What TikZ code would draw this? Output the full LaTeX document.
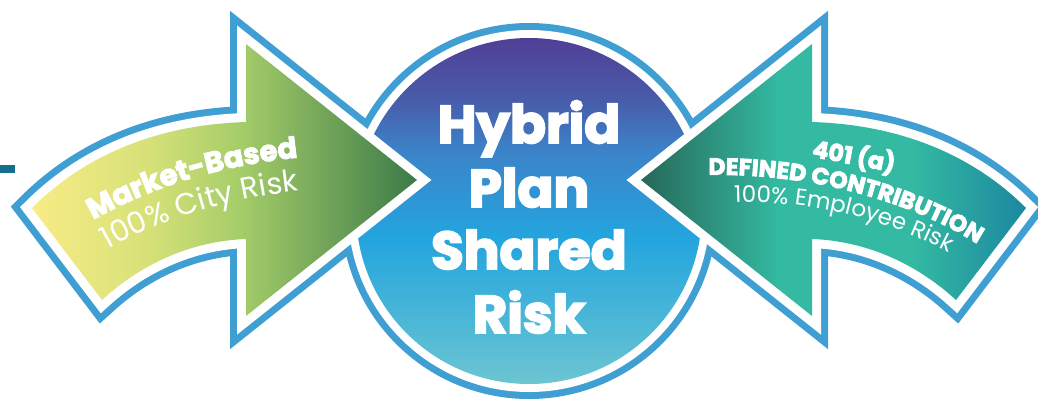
\documentclass[tikz,border=0pt]{standalone}
\usepackage{fontspec}
\setmainfont{Poppins}
\newfontfamily\heavyfont{Poppins}[BoldFeatures={FakeBold=3.5}]
\usetikzlibrary{decorations.text}

\definecolor{rimblue}{RGB}{63,159,210}
\definecolor{dashteal}{RGB}{20,110,140}
\definecolor{lefttail}{RGB}{248,236,134}
\definecolor{leftlight}{RGB}{215,225,120}
\definecolor{leftmid}{RGB}{165,205,105}
\definecolor{lefttip}{RGB}{60,122,72}
\definecolor{righttip}{RGB}{38,104,88}
\definecolor{rightmid}{RGB}{52,186,162}
\definecolor{righttail}{RGB}{28,136,160}
\definecolor{circtop}{RGB}{81,63,150}
\definecolor{circhigh}{RGB}{72,92,170}
\definecolor{circupper}{RGB}{60,130,200}
\definecolor{circmid}{RGB}{35,165,222}
\definecolor{circbot}{RGB}{108,197,210}

\pgfdeclarehorizontalshading{leftfill}{100bp}{color(0bp)=(lefttail); color(25bp)=(lefttail);
  color(40bp)=(leftlight); color(52bp)=(leftmid); color(75bp)=(lefttip); color(100bp)=(lefttip)}
\pgfdeclarehorizontalshading{rightfill}{100bp}{color(0bp)=(righttip); color(25bp)=(righttip);
  color(43bp)=(rightmid); color(60bp)=(rightmid); color(75bp)=(righttail); color(100bp)=(righttail)}
\pgfdeclareverticalshading{circfill}{100bp}{color(0bp)=(circbot); color(25bp)=(circbot);
  color(46bp)=(circmid); color(59bp)=(circupper); color(66bp)=(circhigh); color(75bp)=(circtop);
  color(100bp)=(circtop)}

\newcommand\circlefont{\heavyfont\bfseries\fontsize{53}{53}\selectfont}
\newcommand\leftboldfont{\heavyfont\bfseries\fontsize{29}{29}\selectfont}
\newcommand\leftplainfont{\fontsize{30}{30}\selectfont}
\newcommand\rightboldfont{\heavyfont\bfseries\fontsize{23.5}{23.5}\selectfont}
\newcommand\rightplainfont{\fontsize{23}{23}\selectfont}
\newcommand\pct{\%}

% inner outlines of the two bent arrows (pixel units)
\def\leftshape{(417,180) -- (246,44) -- (246,122) .. controls (150,125) and (80,160) .. (32,208) -- (102,300) .. controls (140,265) and (190,241) .. (246,239) -- (246,316) -- cycle}
\def\rightshape{(641,180) -- (812,44) -- (812,122) .. controls (908,125) and (978,160) .. (1026,208) -- (956,300) .. controls (918,265) and (868,241) .. (812,239) -- (812,316) -- cycle}

\tikzset{
  outline/.style={draw=rimblue, line width=32pt, line join=miter},
  gapline/.style={draw=white, line width=18pt, line join=miter},
  bigword/.style={text=white, font=\circlefont, anchor=base},
}

\begin{document}
\begin{tikzpicture}[x=1pt,y=-1pt]
  \useasboundingbox (0,0) rectangle (1038,401);
  \fill [dashteal] (0,165) rectangle (15,173);

  % blue rims
  \path [outline] \leftshape;
  \path [outline] \rightshape;

  % circle
  \fill [rimblue] (529,211) circle [radius=188pt];
  \fill [white] (529,211) circle [radius=181pt];
  \shade [shading=circfill] (529,211) circle [radius=173pt];

  % arrows on top
  \path [gapline] \leftshape;
  \path [gapline] \rightshape;
  \shade [shading=leftfill] \leftshape;
  \shade [shading=rightfill] \rightshape;

  \node (hybrid) [bigword] at (529,143) {Hybrid};
  \node (plan) [bigword] at (529,207) {Plan};
  \node (shared) [bigword] at (529,269) {Shared};
  \node (risk) [bigword] at (529,333) {Risk};

  \path [decorate, decoration={text along path, text align=center, text color=white,
      text={|\leftboldfont|Market-Based}}]
    (67.8,235.5) .. controls (138.7,188.4) and (225.3,161.5) .. (327.8,154.9);
  \path [decorate, decoration={text along path, text align=center, text color=white,
      text={|\leftplainfont|100{\pct} City Risk}}]
    (78.9,267) .. controls (146.5,221.4) and (231,195) .. (332.4,187.8);

  \path [decorate, decoration={text along path, text align=center, text color=white,
      text={|\rightboldfont|401 (a)}}]
    (790,152.6) -- (915,176.4);
  \path [decorate, decoration={text along path, text align=center, text color=white,
      text={|\rightboldfont|DEFINED CONTRIBUTION}}]
    (663,176.1) -- (703,175) .. controls (810,172) and (915,202) .. (982,247) -- (1015.2,269.2);
  \path [decorate, decoration={text along path, text align=center, text color=white,
      text={|\rightplainfont|100{\pct} Employee Risk}}]
    (699.7,205.7) .. controls (796.2,194.2) and (889.4,215.4) .. (979.2,269.4);
\end{tikzpicture}
\end{document}
